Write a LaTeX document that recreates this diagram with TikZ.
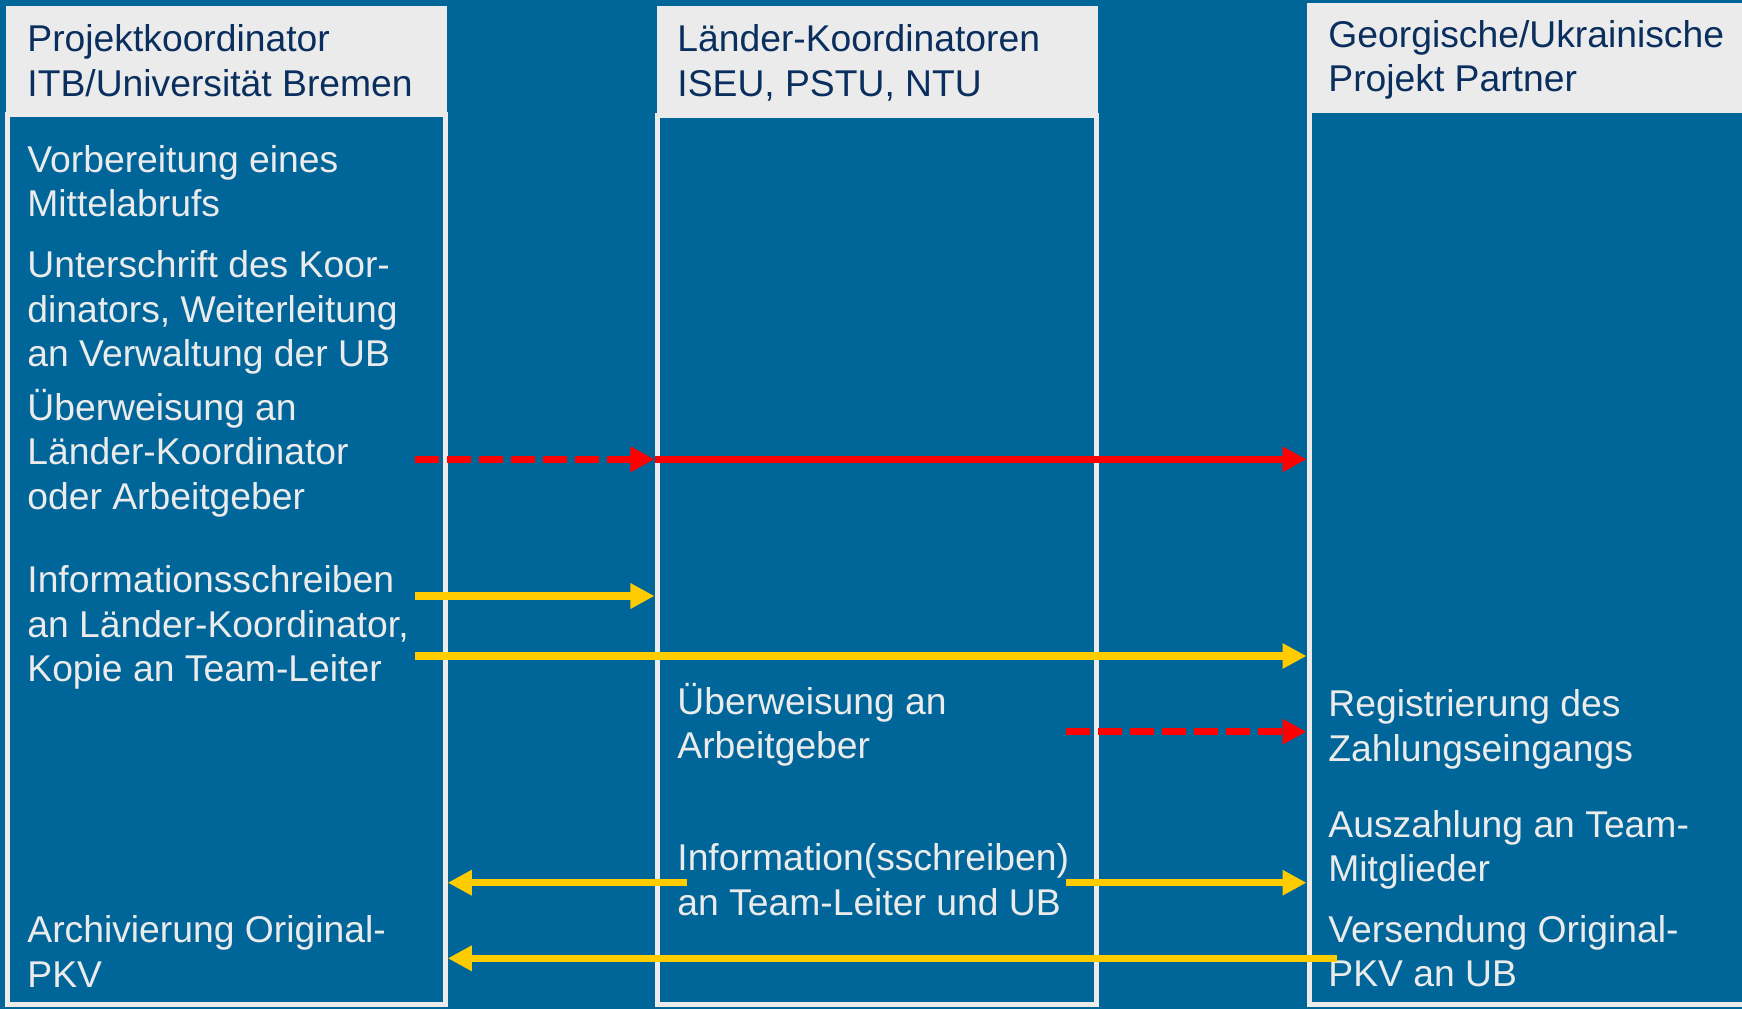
\documentclass[tikz,border=0pt]{standalone}
\usepackage{fontspec}
\setmainfont{Liberation Sans}
\usetikzlibrary{arrows.meta}
\definecolor{bgblue}{HTML}{00669A}
\definecolor{framegray}{HTML}{EBEBEB}
\definecolor{headnavy}{HTML}{0A2F5E}
\definecolor{signalred}{HTML}{FF0000}
\definecolor{signalyellow}{HTML}{FFCC00}

\begin{document}
\begin{tikzpicture}[x=0.01cm,y=-0.01cm,
		head/.style={fill=framegray,draw=none,inner sep=0,anchor=north west,minimum height=1.08cm},
		body/.style={fill=bgblue,draw=framegray,line width=0.05cm,inner sep=0,anchor=north west},
		headtext/.style={text=headnavy,align=left,inner sep=0,anchor=base west,font=\fontsize{10.6pt}{12.63pt}\selectfont},
		bodytext/.style={text=framegray,align=left,inner sep=0,anchor=base west,font=\fontsize{10.6pt}{12.63pt}\selectfont},
		flow/.style={line width=0.075cm,-{Triangle[length=0.24cm,width=0.24cm]}},
		money/.style={flow,signalred},
		info/.style={flow,signalyellow},
		pending/.style={dash pattern=on 0.24cm off 0.08cm}]
	\fill[bgblue,use as bounding box] (0,0) rectangle (1742,1009);
	\node[head,minimum width=4.41cm] (hdr1) at (5.5,5) {};
	\node[head,minimum width=4.41cm] (hdr2) at (656,5) {};
	\node[head,minimum width=4.44cm] (hdr3) at (1306,2) {};
	\node[body,minimum width=4.38cm,minimum height=8.895cm] (body1) at (4.5,112) {};
	\node[body,minimum width=4.39cm,minimum height=8.885cm] (body2) at (654.5,113) {};
	\node[body,minimum width=4.51cm,minimum height=8.935cm] (body3) at (1306.5,108) {};

	\node[headtext] (koord) at (26.7,96) {Projektkoordinator\\ITB/Universität Bremen};
	\node[headtext] (laender) at (676.7,96) {Länder-Koordinatoren\\ISEU, PSTU, NTU};
	\node[headtext] (partner) at (1327.7,91.7) {Georgische/Ukrainische\\Projekt Partner};

	\node[bodytext] (vorb) at (26.7,216.7) {Vorbereitung eines\\Mittelabrufs};
	\node[bodytext] (unters) at (26.7,366.7) {Unterschrift des Koor-\\dinators, Weiterleitung\\an Verwaltung der UB};
	\node[bodytext] (ueberw) at (26.7,509.3) {Überweisung an\\Länder-Koordinator\\oder Arbeitgeber};
	\node[bodytext] (infos) at (26.7,681.7) {Informationsschreiben\\an Länder-Koordinator,\\Kopie an Team-Leiter};
	\node[bodytext] (archiv) at (26.7,987.3) {Archivierung Original-\\PKV};
	\node[bodytext] (ueberwag) at (676.7,758.5) {Überweisung an\\Arbeitgeber};
	\node[bodytext] (infotl) at (676.7,915.3) {Information(sschreiben)\\an Team-Leiter und UB};
	\node[bodytext] (regist) at (1327.7,761) {Registrierung des\\Zahlungseingangs};
	\node[bodytext] (auszahl) at (1327.7,881.7) {Auszahlung an Team-\\Mitglieder};
	\node[bodytext] (versend) at (1327.7,986.7) {Versendung Original-\\PKV an UB};

	\coordinate (geld1) at (415,459.3);
	\coordinate (brief1) at (415,596);
	\coordinate (brief2) at (415,656);
	\coordinate (geld2) at (1066,731.7);
	\coordinate (brief3) at (686.7,882.7);
	\coordinate (brief4) at (1066,882.7);
	\coordinate (pkv) at (1337.4,958.3);

	\draw[money,pending] (geld1) -- (geld1 -| body2.west);
	\draw[money] (geld1 -| body2.west) -- (geld1 -| body3.west);
	\draw[info] (brief1) -- (brief1 -| body2.west);
	\draw[info] (brief2) -- (brief2 -| body3.west);
	\draw[money,pending] (geld2) -- (geld2 -| body3.west);
	\draw[info] (brief3) -- (brief3 -| body1.east);
	\draw[info] (brief4) -- (brief4 -| body3.west);
	\draw[info] (pkv) -- (pkv -| body1.east);
\end{tikzpicture}
\end{document}
